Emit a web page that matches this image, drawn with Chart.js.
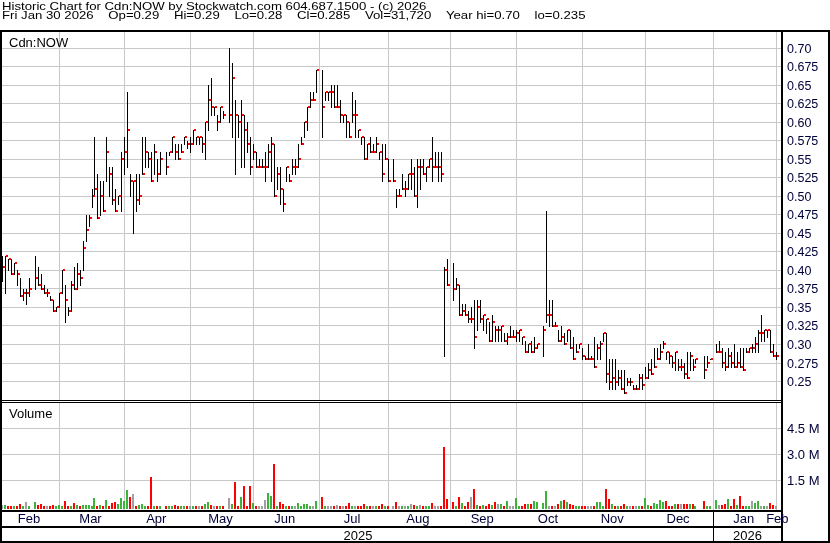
<!DOCTYPE html>
<html>
<head>
<meta charset="utf-8">
<script src="https://cdn.jsdelivr.net/npm/chart.js@4.4.1/dist/chart.umd.min.js"></script>
<style>
  html, body { margin: 0; padding: 0; background: #fff; }
  canvas { display: block; }
</style>
</head>
<body>
<canvas id="chart" width="830" height="543"></canvas>
<script>
// One slot per weekday, Feb 3 2025 .. Jan 30 2026 (null = market holiday)
const highs = [
  0.42,0.42,0.415,0.415,0.41,0.40,0.39,0.375,0.375,0.39, null,0.42,0.405,0.395,0.38,0.375,0.365,0.36,0.35,0.37,
  0.40,0.38,0.35,0.385,0.405,0.41,0.40,0.44,0.475,0.475, 0.51,0.58,0.53,0.52,0.52,0.58,0.54,0.54,0.51,0.50,
  0.56,0.58,0.64,0.53,0.52,0.53,0.53,0.58,0.58,0.56, 0.56,0.57,0.55,0.56,null,0.56,0.56,0.58,0.57,0.57,
  0.57,0.58,0.575,0.58,0.59,0.58,0.58,0.58,0.60,0.65, 0.66,0.62,0.61,0.62,0.615,null,0.70,0.68,0.63,0.61,
  0.63,0.61,0.60,0.58,0.57,0.56,0.55,0.55,0.56,0.57, 0.58,0.57,0.54,0.54,0.51,0.54,0.53,0.55,0.55,0.57,
  0.58,0.60,0.62,0.64,0.64,0.67,null,0.67,0.64,0.64, 0.65,0.65,0.65,0.63,0.61,0.61,0.60,0.64,0.63,0.59,
  0.58,0.58,0.57,0.58,0.57,0.58,0.56,0.57,0.57,0.55, null,0.55,0.51,0.51,0.53,0.52,0.53,0.55,0.54,0.55,
  0.55,0.55,0.54,0.55,0.58,0.56,0.56,0.56,0.405,0.415, null,0.41,0.39,0.38,0.355,0.355,0.345,0.35,0.36,0.36,
  0.36,0.34,0.335,0.33,0.34,0.325,0.325,0.325,0.315,0.315, 0.325,0.32,0.32,0.32,0.31,0.305,0.30,0.305,0.31,0.30,
  null,0.325,0.48,0.36,0.36,0.33,0.32,0.325,0.315,0.32, 0.32,0.31,0.30,0.30,0.295,0.285,0.30,0.285,0.31,0.30,
  0.305,0.315,0.315,0.28,0.28,0.28,0.265,0.265,0.265,0.255, 0.255,0.245,0.245,0.26,0.26,0.27,0.275,0.28,0.295,0.295,
  0.30,0.305,0.29,0.29,0.285,0.29,0.28,0.28,0.275,0.29, 0.29,0.28,0.28,null,null,0.285,0.285,0.28,null,0.30,
  0.305,0.295,0.29,0.295,0.29,0.30,0.29,0.295,0.295,0.295, 0.295,0.30,0.31,0.32,0.34,0.32,0.32,0.32,0.30,0.29
];
const lows = [
  0.385,0.37,0.40,0.395,0.395,0.38,0.365,0.36,0.355,0.365, null,0.375,0.38,0.375,0.37,0.365,0.36,0.345,0.345,0.35,
  0.37,0.33,0.34,0.345,0.375,0.375,0.38,0.40,0.44,0.46, 0.485,0.50,0.47,0.475,0.48,0.52,0.50,0.49,0.48,0.49,
  0.48,0.53,0.54,0.50,0.45,0.48,0.49,0.53,0.54,0.54, 0.52,0.53,0.52,0.53,null,0.53,0.555,0.56,0.55,0.55,
  0.56,0.57,0.565,0.56,0.57,0.57,0.57,0.56,0.55,0.59, 0.61,0.61,0.59,0.60,0.605,null,0.60,0.58,0.53,0.58,
  0.54,0.54,0.56,0.53,0.55,0.54,0.54,0.54,0.52,0.54, 0.52,0.50,0.51,0.49,0.48,0.52,0.52,0.53,0.53,0.54,
  0.57,0.58,0.59,0.62,0.63,0.64,null,0.58,0.63,0.63, 0.62,0.62,0.62,0.60,0.60,0.58,0.58,0.60,0.58,0.58,
  0.57,0.55,0.55,0.56,0.56,0.56,0.55,0.52,0.55,0.52, null,0.52,0.485,0.50,0.51,0.50,0.51,0.51,0.50,0.485,
  0.51,0.53,0.52,0.54,0.52,0.54,0.52,0.52,0.285,0.38, null,0.36,0.375,0.34,0.34,0.34,0.33,0.33,0.295,0.32,
  0.33,0.32,0.315,0.305,0.305,0.305,0.305,0.305,0.305,0.30, 0.31,0.31,0.305,0.305,0.30,0.29,0.29,0.29,0.29,0.295,
  null,0.285,0.33,0.325,0.325,0.325,0.305,0.305,0.30,0.305, 0.295,0.28,0.29,0.295,0.28,0.28,0.28,0.28,0.27,0.28,
  0.28,0.305,0.25,0.24,0.24,0.24,0.245,0.24,0.235,0.245, 0.245,0.24,0.24,0.24,0.24,0.255,0.255,0.26,0.27,0.28,
  0.28,0.295,0.28,0.275,0.27,0.265,0.265,0.265,0.255,0.255, 0.265,0.265,0.275,null,null,0.255,0.27,0.28,null,0.29,
  0.29,0.27,0.265,0.27,0.27,0.27,0.27,0.27,0.265,0.29, 0.29,0.29,0.29,0.29,0.305,0.305,0.31,0.29,0.285,0.28
];
const closes = [
  0.405,0.42,0.415,0.395,0.41,0.395,0.365,0.37,0.37,0.375, null,0.39,0.38,0.375,0.37,0.37,0.36,0.345,0.35,0.37,
  0.40,0.36,0.345,0.38,0.375,0.395,0.39,0.43,0.455,0.47, 0.50,0.51,0.47,0.50,0.48,0.56,0.53,0.495,0.48,0.50,
  0.55,0.56,0.59,0.52,0.52,0.495,0.50,0.53,0.56,0.55, 0.52,0.56,0.53,0.55,null,0.54,0.56,0.58,0.56,0.55,
  0.56,0.58,0.57,0.57,0.59,0.58,0.58,0.57,0.60,0.63, 0.62,0.62,0.60,0.62,0.61,null,0.61,0.66,0.61,0.60,
  0.61,0.59,0.57,0.54,0.56,0.54,0.54,0.54,0.54,0.56, 0.57,0.50,0.53,0.51,0.49,0.54,0.52,0.54,0.54,0.55,
  0.57,0.60,0.62,0.63,0.63,0.67,null,0.62,0.64,0.64, 0.64,0.62,0.62,0.61,0.61,0.60,0.58,0.61,0.61,0.59,
  0.58,0.55,0.57,0.56,0.56,0.57,0.56,0.53,0.55,0.52, null,0.52,0.50,0.50,0.51,0.51,0.53,0.53,0.50,0.54,
  0.54,0.53,0.54,0.55,0.54,0.54,0.54,0.53,0.40,0.38, null,0.375,0.38,0.34,0.345,0.34,0.335,0.335,0.31,0.35,
  0.335,0.34,0.335,0.305,0.33,0.32,0.32,0.325,0.305,0.31, 0.31,0.31,0.315,0.32,0.31,0.29,0.30,0.29,0.295,0.30,
  null,0.32,0.34,0.34,0.325,0.325,0.305,0.31,0.30,0.32, 0.295,0.28,0.29,0.30,0.285,0.28,0.28,0.28,0.27,0.295,
  0.30,0.315,0.26,0.25,0.255,0.25,0.255,0.24,0.235,0.25, 0.25,0.24,0.24,0.255,0.245,0.255,0.265,0.26,0.27,0.28,
  0.29,0.30,0.29,0.285,0.275,0.29,0.27,0.27,0.26,0.255, 0.285,0.27,0.28,null,null,0.265,0.275,0.28,null,0.29,
  0.29,0.275,0.27,0.285,0.275,0.27,0.275,0.27,0.265,0.29, 0.295,0.295,0.30,0.315,0.315,0.32,0.32,0.29,0.285,0.285
];
// volume in millions of shares
const volumes = [
  0.077,0.077,0.03,0.04,0.04,0.05,0.13,0.03,0.25,0.04, null,0.25,0.08,0.13,0.03,0.04,0.03,0.08,0.03,0.08,
  0.05,0.31,0.04,0.05,0.19,0.08,0.05,0.08,0.08,0.08, 0.05,0.50,0.04,0.08,0.04,0.37,0.04,0.19,0.25,0.13,
  0.50,0.33,0.94,0.56,0.71,0.04,0.08,0.13,0.05,0.03, 1.69,0.04,0.04,0.03,null,0.03,0.03,0.04,0.08,0.04,
  0.03,0.04,0.03,0.03,0.03,0.05,0.03,0.04,0.13,0.25, 0.08,0.03,0.03,0.05,0.04,null,0.50,0.13,1.40,0.03,
  0.54,1.17,0.05,1.17,0.19,0.04,0.03,0.03,0.37,0.77, 0.60,2.44,0.05,0.25,0.13,0.03,0.04,0.05,0.03,0.19,
  0.05,0.13,0.13,0.05,0.04,0.31,null,0.54,0.04,0.03, 0.03,0.04,0.06,0.04,0.05,0.04,0.19,0.02,0.05,0.04,
  0.03,0.13,0.04,0.03,0.03,0.04,0.04,0.13,0.04,0.04, null,0.05,0.25,0.03,0.04,0.04,0.04,0.12,0.06,0.04,
  0.06,0.04,0.05,0.03,0.19,0.04,0.05,0.05,3.42,0.42, null,0.25,0.05,0.54,0.19,0.05,0.25,0.54,1.00,0.08,
  0.04,0.08,0.04,0.13,0.08,0.25,0.13,0.13,0.03,0.31, 0.04,0.04,0.48,0.04,0.03,0.13,0.13,0.13,0.31,0.25,
  null,0.19,0.88,0.05,0.05,0.05,0.13,0.31,0.37,0.25, 0.13,0.08,0.04,0.03,0.04,0.03,0.03,0.04,0.05,0.25,
  0.25,0.04,1.00,0.42,0.13,0.05,0.05,0.05,0.13,0.05, 0.04,0.03,0.03,0.03,0.04,0.48,0.08,0.05,0.19,0.13,
  0.37,0.25,0.31,0.04,0.05,0.13,0.13,0.13,0.13,0.13, 0.13,0.13,0.04,null,null,0.31,0.02,0.02,null,0.37,
  0.08,0.08,0.13,0.42,0.03,0.42,0.08,0.60,0.05,0.04, 0.05,0.31,0.19,0.31,0.05,0.05,0.03,0.19,0.08,0.032
];

const priceTickLabels = ['0.70','0.675','0.65','0.625','0.60','0.575','0.55','0.525','0.50','0.475',
  '0.45','0.425','0.40','0.375','0.35','0.325','0.30','0.275','0.25'];
const volumeTickLabels = ['4.5 M', '3.0 M', '1.5 M'];
const volumeTickValues = [4.5, 3.0, 1.5];
const monthLabels = ['Feb','Mar','Apr','May','Jun','Jul','Aug','Sep','Oct','Nov','Dec','Jan','Feb'];
const monthBreaks = [19, 41, 63, 84, 106, 129, 150, 172, 194, 215, 238, 259]; // weekday slot at each month line
const yearLabels = ['2025', '2026'];
const yearBreaks = [238];

const headerLine1 = 'Historic Chart for Cdn:NOW by Stockwatch.com 604.687.1500 - (c) 2026';
const headerLine2 = 'Fri Jan 30 2026    Op=0.29    Hi=0.29    Lo=0.28    Cl=0.285    Vol=31,720    Year hi=0.70    lo=0.235';

// Build datasets (trading days only)
const rangeData = [], closeData = [], volData = [], volColors = [];
let prevClose = null;
highs.forEach((h, i) => {
    if (h === null) return;
    rangeData.push({ x: i, y: [lows[i], h] });
    closeData.push({ x: i, y: closes[i] });
    volData.push({ x: i, y: volumes[i] });
    let c = '#a0a0a0';
    if (prevClose !== null && closes[i] > prevClose) c = '#3cb43c';
    if (prevClose !== null && closes[i] < prevClose) c = '#ff0000';
    volColors.push(c);
    prevClose = closes[i];
});

const AXIS_TEXT = '#00003a';
const GRID = '#c8c8c8';

const stockPlot = {
    id: 'stockPlot',
    beforeDraw(chart) {
        const ctx = chart.ctx;
        ctx.save();
        ctx.fillStyle = '#fff';
        ctx.fillRect(0, 0, chart.width, chart.height);
        ctx.restore();
    },
    afterDatasetsDraw(chart) {
        const { ctx, chartArea: a, scales } = chart;
        ctx.save();

        // grid
        ctx.fillStyle = GRID;
        monthBreaks.forEach(m => {
            const px = Math.floor(scales.x.getPixelForValue(m));
            ctx.fillRect(px, 32, 1, 368);
            ctx.fillRect(px, 403, 1, 107);
        });
        priceTickLabels.forEach(t => {
            const py = Math.floor(scales.y.getPixelForValue(parseFloat(t)));
            ctx.fillRect(a.left, py, a.right - a.left, 1);
        });
        volumeTickValues.forEach(v => {
            const py = Math.floor(scales.yv.getPixelForValue(v));
            ctx.fillRect(a.left, py, a.right - a.left, 1);
        });

        // volume bars
        const volMeta = chart.getDatasetMeta(2);
        volMeta.data.forEach((el, k) => {
            const px = Math.floor(el.x);
            const top = Math.round(el.y);
            ctx.fillStyle = volColors[k];
            ctx.fillRect(px - 1, top, 2, 509 - top);
        });

        // high-low bars
        const rangeMeta = chart.getDatasetMeta(0);
        ctx.fillStyle = '#000';
        rangeMeta.data.forEach(el => {
            const px = Math.floor(el.x);
            const top = Math.round(Math.min(el.y, el.base));
            const bot = Math.round(Math.max(el.y, el.base));
            ctx.fillRect(px, top, 1, Math.max(1, bot - top + 1));
        });

        // close ticks
        const closeMeta = chart.getDatasetMeta(1);
        ctx.fillStyle = '#ff0000';
        closeMeta.data.forEach(el => {
            const px = Math.floor(el.x);
            const py = Math.round(el.y);
            ctx.fillRect(px + 1, py - 1, 2, 2);
        });

        // frame
        ctx.fillStyle = '#000';
        ctx.fillRect(0, 30, 830, 2);
        ctx.fillRect(0, 30, 2, 513);
        ctx.fillRect(828, 30, 2, 513);
        ctx.fillRect(781, 30, 2, 513);
        ctx.fillRect(0, 400, 781, 1);
        ctx.fillRect(0, 402, 781, 1);
        ctx.fillRect(0, 510, 781, 2);
        ctx.fillRect(0, 526, 781, 2);
        ctx.fillRect(0, 541, 830, 2);
        yearBreaks.forEach(b => {
            const px = Math.floor(scales.x.getPixelForValue(b));
            ctx.fillRect(px, 510, 1, 31);
        });

        // price axis labels
        ctx.fillStyle = AXIS_TEXT;
        ctx.textAlign = 'left';
        ctx.textBaseline = 'alphabetic';
        ctx.font = '12.5px "Liberation Sans", Arial, sans-serif';
        priceTickLabels.forEach(t => {
            const py = Math.floor(scales.y.getPixelForValue(parseFloat(t)));
            ctx.fillText(t, 787, py + 5);
        });
        ctx.font = '13px "Liberation Sans", Arial, sans-serif';
        volumeTickValues.forEach((v, k) => {
            const py = Math.floor(scales.yv.getPixelForValue(v));
            ctx.fillText(volumeTickLabels[k], 787, py + 5);
        });

        // panel titles
        ctx.fillStyle = '#000';
        ctx.fillText('Cdn:NOW', 9, 47);
        ctx.fillText('Volume', 9, 418);

        // month labels
        ctx.fillStyle = AXIS_TEXT;
        ctx.textAlign = 'center';
        const edges = [a.left].concat(monthBreaks.map(m => scales.x.getPixelForValue(m)), [a.right]);
        monthLabels.forEach((lab, k) => {
            ctx.fillText(lab, (edges[k] + edges[k + 1]) / 2 - 1.5, 523);
        });
        // year labels
        ctx.fillStyle = '#000';
        const yEdges = [a.left].concat(yearBreaks.map(b => scales.x.getPixelForValue(b)), [a.right]);
        yearLabels.forEach((lab, k) => {
            ctx.fillText(lab, (yEdges[k] + yEdges[k + 1]) / 2, 539.5);
        });

        // header
        ctx.textAlign = 'left';
        ctx.font = '13.2px "Liberation Sans", Arial, sans-serif';
        [[headerLine1, 9.5], [headerLine2, 19]].forEach(([txt, base]) => {
            ctx.save();
            ctx.translate(2, base);
            ctx.scale(1, 0.8);
            ctx.fillText(txt, 0, 0);
            ctx.restore();
        });

        ctx.restore();
    }
};

new Chart(document.getElementById('chart'), {
    type: 'bar',
    data: {
        datasets: [
            { type: 'bar', label: 'High/Low', data: rangeData, yAxisID: 'y',
              backgroundColor: 'rgba(0,0,0,0)', barThickness: 1, grouped: false },
            { type: 'line', label: 'Close', data: closeData, yAxisID: 'y',
              showLine: false, pointRadius: 0 },
            { type: 'bar', label: 'Volume', data: volData, yAxisID: 'yv',
              backgroundColor: 'rgba(0,0,0,0)', barThickness: 2, grouped: false }
        ]
    },
    options: {
        responsive: false,
        animation: false,
        devicePixelRatio: 1,
        layout: { padding: { left: 2, top: 31, right: 49, bottom: 33 } },
        plugins: { legend: { display: false }, tooltip: { enabled: false } },
        scales: {
            x: { type: 'linear', min: -0.1, max: 260.43, offset: false, grid: { offset: false }, display: false },
            y: { type: 'linear', min: 0.07669, max: 0.72294, display: false },
            yv: { type: 'linear', min: -0.2019, max: 27.433, display: false }
        }
    },
    plugins: [stockPlot]
});
</script>
</body>
</html>
